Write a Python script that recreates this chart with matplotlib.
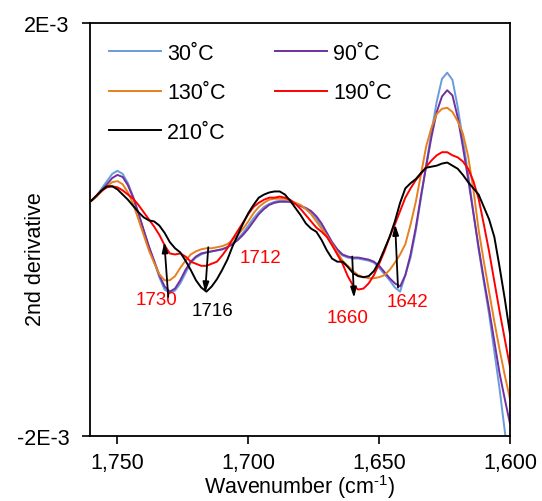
import matplotlib
matplotlib.use("Agg")
import matplotlib.pyplot as plt
import numpy as np

plt.rcParams['font.family'] = ['Liberation Sans', 'DejaVu Sans']
plt.rcParams['mathtext.fontset'] = 'custom'
plt.rcParams['mathtext.rm'] = 'Liberation Sans'
plt.rcParams['mathtext.it'] = 'Liberation Sans:italic'

# wavenumber grid, 1760 -> 1600 cm-1, step 2
wavenumber = np.arange(1760, 1598, -2)

# second derivative values, units of 1E-3
d_30 = [0.28, 0.33, 0.40, 0.47, 0.54, 0.57, 0.54, 0.45, 0.32, 0.16,
        -0.01, -0.17, -0.31, -0.46, -0.58, -0.61, -0.59, -0.52, -0.42, -0.32,
        -0.27, -0.24, -0.22, -0.21, -0.20, -0.19, -0.17, -0.13, -0.09, -0.03,
        0.04, 0.11, 0.17, 0.22, 0.25, 0.27, 0.28, 0.28, 0.27, 0.25,
        0.23, 0.20, 0.16, 0.11, 0.03, -0.06, -0.15, -0.21, -0.25, -0.27,
        -0.28, -0.28, -0.29, -0.30, -0.32, -0.37, -0.43, -0.49, -0.56, -0.60,
        -0.44, -0.27, -0.01, 0.31, 0.63, 0.95, 1.24, 1.46, 1.52, 1.45,
        1.19, 0.87, 0.54, 0.17, -0.19, -0.51, -0.82, -1.18, -1.54, -1.95,
        -2.37]
d_90 = [0.28, 0.32, 0.38, 0.44, 0.50, 0.53, 0.51, 0.43, 0.31, 0.16,
        0.00, -0.16, -0.30, -0.44, -0.55, -0.60, -0.57, -0.49, -0.39, -0.31,
        -0.26, -0.23, -0.22, -0.21, -0.20, -0.19, -0.17, -0.14, -0.10, -0.05,
        0.01, 0.08, 0.15, 0.20, 0.24, 0.26, 0.27, 0.27, 0.27, 0.25,
        0.23, 0.21, 0.18, 0.13, 0.06, -0.03, -0.12, -0.19, -0.24, -0.26,
        -0.27, -0.27, -0.28, -0.29, -0.31, -0.35, -0.41, -0.47, -0.52, -0.55,
        -0.44, -0.24, 0.02, 0.33, 0.62, 0.90, 1.14, 1.29, 1.35, 1.30,
        1.09, 0.80, 0.49, 0.16, -0.17, -0.48, -0.77, -1.08, -1.39, -1.64,
        -1.88]
d_130 = [0.28, 0.32, 0.37, 0.42, 0.46, 0.47, 0.44, 0.36, 0.25, 0.10,
         -0.05, -0.20, -0.32, -0.43, -0.49, -0.49, -0.45, -0.37, -0.30, -0.24,
         -0.21, -0.19, -0.18, -0.18, -0.17, -0.16, -0.14, -0.10, -0.05, 0.01,
         0.08, 0.16, 0.22, 0.26, 0.29, 0.30, 0.30, 0.30, 0.28, 0.26,
         0.24, 0.20, 0.15, 0.08, 0.01, -0.06, -0.14, -0.22, -0.30, -0.35,
         -0.40, -0.44, -0.46, -0.47, -0.47, -0.46, -0.44, -0.39, -0.32, -0.24,
         -0.14, 0.05, 0.27, 0.54, 0.81, 0.99, 1.12, 1.17, 1.18, 1.14,
         1.05, 0.93, 0.71, 0.39, 0.00, -0.31, -0.60, -0.89, -1.16, -1.41,
         -1.64]
d_190 = [0.28, 0.33, 0.38, 0.41, 0.42, 0.41, 0.38, 0.34, 0.30, 0.24,
         0.17, 0.10, 0.03, -0.05, -0.15, -0.23, -0.24, -0.23, -0.26, -0.31,
         -0.33, -0.35, -0.35, -0.33, -0.31, -0.25, -0.18, -0.09, -0.01, 0.07,
         0.15, 0.22, 0.26, 0.29, 0.31, 0.31, 0.32, 0.31, 0.29, 0.25,
         0.20, 0.14, 0.08, 0.02, -0.02, -0.07, -0.15, -0.24, -0.33, -0.45,
         -0.54, -0.58, -0.57, -0.52, -0.44, -0.33, -0.21, -0.07, 0.05, 0.18,
         0.31, 0.40, 0.48, 0.54, 0.61, 0.67, 0.72, 0.75, 0.75, 0.72,
         0.70, 0.66, 0.59, 0.47, 0.30, 0.05, -0.21, -0.50, -0.79, -1.06,
         -1.33]
d_210 = [0.28, 0.33, 0.38, 0.42, 0.42, 0.39, 0.34, 0.29, 0.23, 0.17,
         0.12, 0.09, 0.08, 0.04, -0.03, -0.12, -0.18, -0.22, -0.30, -0.39,
         -0.49, -0.56, -0.60, -0.55, -0.48, -0.39, -0.29, -0.16, -0.05, 0.06,
         0.16, 0.24, 0.31, 0.34, 0.36, 0.37, 0.37, 0.34, 0.28, 0.21,
         0.14, 0.06, 0.01, -0.02, -0.10, -0.20, -0.28, -0.31, -0.31, -0.36,
         -0.42, -0.45, -0.46, -0.45, -0.40, -0.31, -0.19, -0.07, 0.08, 0.26,
         0.40, 0.45, 0.49, 0.55, 0.60, 0.61, 0.62, 0.64, 0.65, 0.62,
         0.59, 0.53, 0.46, 0.40, 0.34, 0.22, 0.10, -0.07, -0.36, -0.67,
         -1.01]

labels = ['30˚C', '90˚C', '130˚C', '190˚C', '210˚C']
colors = ['#6A9BDB', '#7030A0', '#E8801E', '#FF0000', '#000000']
series = [d_30, d_90, d_130, d_190, d_210]

# band labels and arrows
bands = ['1730', '1716', '1712', '1660', '1642']
band_text_xy = [(1735.0, -0.68), (1713.8, -0.78), (1695.5, -0.27), (1661.9, -0.85), (1639.0, -0.70)]
band_colors = ['red', 'black', 'red', 'red', 'red']
arrow_tail = [(1730.6, -0.65), (1715.3, -0.17), (1660.3, -0.26), (1642.8, -0.56)]
arrow_head = [(1732.1, -0.12), (1716.5, -0.61), (1659.6, -0.66), (1643.9, 0.05)]

xticks = [1750, 1700, 1650, 1600]
xticklabels = ['1,750', '1,700', '1,650', '1,600']
yticks = [-2e-3, 2e-3]
yticklabels = ['-2E-3', '2E-3']

fig = plt.figure(figsize=(5.42, 5.02), dpi=100)
ax = fig.add_axes([0.166, 0.129, 0.775, 0.823])

lines = []
for vals, lab, col in zip(series, labels, colors):
    ln, = ax.plot(wavenumber, np.array(vals) * 1e-3, color=col, lw=1.4, label=lab)
    lines.append(ln)

for (tx, ty), t, c in zip(band_text_xy, bands, band_colors):
    ax.text(tx, ty * 1e-3, t, color=c, fontsize=13.5, ha='center', va='center')

for (x0, y0), (x1, y1) in zip(arrow_tail, arrow_head):
    ax.annotate('', xy=(x1, y1 * 1e-3), xytext=(x0, y0 * 1e-3),
                arrowprops=dict(arrowstyle='-|>,head_length=0.6,head_width=0.18',
                                color='black', lw=1.3, shrinkA=0, shrinkB=0))

ax.set_xlim(1760.5, 1600)
ax.set_ylim(-2e-3, 2e-3)
ax.set_xticks(xticks)
ax.set_xticklabels(xticklabels)
ax.set_yticks(yticks)
ax.set_yticklabels(yticklabels)
ax.tick_params(direction='out', length=6, width=1.2, labelsize=15.5)
ax.tick_params(axis='y', pad=9)
ax.tick_params(axis='x', pad=5)
for sp in ax.spines.values():
    sp.set_linewidth(1.3)

ax.set_xlabel(r'Wavenumber (cm$^{\text{-1}}$)', fontsize=15.5, labelpad=0)
ax.set_ylabel('2nd derivative', fontsize=15.5)
ax.yaxis.set_label_coords(-0.105, 0.43)

order = [0, 2, 4, 1, 3]
ax.legend([lines[i] for i in order], [labels[i] for i in order],
          ncol=2, frameon=False, fontsize=15.5, loc='upper left',
          bbox_to_anchor=(0.045, 0.952), borderaxespad=0, borderpad=0,
          handlelength=2.4, handletextpad=0.3, labelspacing=0.85,
          columnspacing=2.3)

fig.savefig('out.png', dpi=100)
